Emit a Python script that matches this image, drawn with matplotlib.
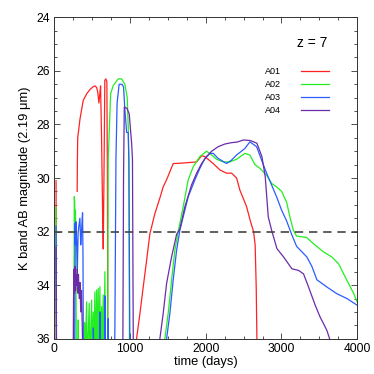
import numpy as np
import matplotlib
matplotlib.use('Agg')
import matplotlib.pyplot as plt
from matplotlib.ticker import MultipleLocator

plt.rcParams['font.family'] = ['Liberation Sans', 'DejaVu Sans']

nan = np.nan

# A01 (red)
a01_t = [24, 30, nan, 303, 306, 310, 340, 383, 430, 471, 510, 537, 560, 575, 590, 600, 612,
         625, 640, 647, 655, 668, 682, 695, 702, 708,
         1080, 1087, 1131, 1175, 1220, 1263, 1329, 1400, 1439, 1483, 1571, 1650, 1748,
         1880, 1946, 1989, 2099, 2188, 2276, 2342, 2408, 2451, 2540, 2587, 2632, 2653,
         2667, 2676, 2680]
a01_m = [30.1, 37, nan, 30.5, 29.3, 28.5, 27.8, 27.1, 26.85, 26.7, 26.6, 26.56, 26.62, 26.8, 27.2, 26.9, 26.56,
         28.5, 31.5, 32.65, 30.5, 26.35, 26.3, 26.4, 30.0, 37,
         37, 36.0, 35.07, 34.07, 33.07, 32.08, 31.33, 30.7, 30.33, 30.07, 29.46, 29.45, 29.43,
         29.4, 29.17, 29.2, 29.46, 29.7, 29.82, 29.82, 30.0, 30.45, 31.07, 31.58, 32.0, 32.5,
         34.07, 36.0, 37]

# A02 (green)
a02_t = [24, 30, nan, 258, 265, 270, 275, 280, 287, 292, 310, 317, 324,
         395, 400, 405, 428, 435, 462, 468, 494, 500, 515, 522, 537, 545, 560, 567,
         581, 588, 603, 610, 625, 632, 647, 655, 669, 676,
         705, 713, 745, 779, 845, 890, 933, 964, 977, 986, 994,
         1455, 1461, 1505, 1550, 1593, 1637, 1703, 1769, 1835, 1923, 2012, 2078, 2144,
         2231, 2320, 2408, 2517, 2583, 2650, 2716, 2804, 2870, 2936, 3002, 3068, 3112,
         3156, 3200, 3332, 3422, 3556, 3666, 3754, 3864, 3952, 4000]
a02_m = [31.1, 37, nan, 37, 30.7, 30.9, 31.8, 31.2, 33.5, 37, 37, 35.3, 37,
         37, 35.4, 37, 34.62, 37, 34.68, 37, 34.56, 37, 35.0, 37, 34.25, 37, 34.18, 37,
         34.12, 37, 34.06, 37, 34.8, 37, 34.37, 37, 33.5, 37,
         37, 29.3, 26.85, 26.55, 26.3, 26.3, 26.5, 27.0, 28.1, 29.3, 37,
         37, 36.0, 35.05, 33.8, 32.7, 32.0, 31.07, 30.07, 29.58, 29.2, 29.0, 29.14, 29.3,
         29.4, 29.4, 29.3, 29.08, 29.14, 29.5, 29.64, 29.9, 30.2, 30.33, 30.5, 30.9, 31.45,
         31.94, 32.17, 32.22, 32.45, 32.76, 32.95, 33.2, 33.82, 34.3, 34.63]

# A03 (blue)
a03_t = [24, 30, nan, 270, 275, 280, 286, 295, 305, 315, 325, 339, 350, 360, 374, 380, 385,
         512, 517, 522, 598, 603, 608, 664, 669, 674, 708, 713, 718,
         795, 801, 815, 830, 857, 895, 915, 933, 956, 977, 986, 1000,
         1478, 1484, 1527, 1571, 1616, 1659, 1769, 1857, 1923, 1989, 2055, 2099, 2165,
         2276, 2342, 2408, 2517, 2583, 2672, 2738, 2804, 2870, 2936, 3002, 3068, 3134,
         3200, 3336, 3402, 3468, 3600, 3732, 3864, 4000]
a03_m = [31.8, 37, nan, 37, 31.7, 32.5, 31.63, 32.3, 33.5, 32.06, 31.8, 31.5, 32.5, 32.0, 31.3, 33.0, 37,
         37, 35.6, 37, 37, 35.0, 37, 37, 34.4, 37, 37, 35.25, 37,
         37, 35.6, 29.3, 27.2, 26.5, 26.5, 26.6, 27.45, 28.3, 28.3, 29.5, 37,
         37, 36.0, 35.05, 33.8, 32.7, 31.95, 30.7, 30.07, 29.64, 29.27, 29.08, 29.08, 29.27,
         29.46, 29.33, 29.14, 28.9, 28.65, 28.83, 29.33, 29.82, 30.26, 30.7, 31.2, 31.6, 32.1,
         32.55, 32.95, 33.3, 33.8, 34.07, 34.32, 34.5, 34.75]

# A04 (purple)
a04_t = [24, 30, nan, 250, 255, 262, 268, 275, 282, 290, 298, 305, 312, 320, 330, 340,
         350, 360, 370, 380,
         905, 915, 925, 960, 990, 1010, 1022, 1033, 1045,
         1390, 1395, 1439, 1484, 1550, 1616, 1659, 1725, 1813, 1880, 1946, 2012, 2078,
         2165, 2254, 2342, 2412, 2500, 2587, 2676, 2742, 2786, 2826, 2875, 2941, 3029,
         3138, 3226, 3292, 3358, 3446, 3512, 3556, 3600, 3636, 3660]
a04_m = [32.6, 37, nan, 37, 34.5, 33.4, 34.3, 33.3, 34.2, 33.6, 34.0, 33.4, 34.3, 33.6, 34.5, 33.9,
         35.0, 34.2, 35.5, 37,
         37, 30.0, 27.35, 27.4, 27.6, 28.3, 28.7, 29.3, 37,
         37, 36.0, 35.05, 33.93, 32.94, 32.1, 31.9, 31.07, 30.26, 29.82, 29.46, 29.2, 29.0,
         28.83, 28.73, 28.68, 28.66, 28.58, 28.6, 28.7, 29.2, 29.95, 31.45, 32.0, 32.64, 32.95,
         33.39, 33.45, 33.58, 34.07, 34.75, 35.2, 35.44, 35.69, 36.0, 37]

labels = ['A01', 'A02', 'A03', 'A04']
colors = ['#ff2222', '#22ee22', '#2a5cff', '#6a2ca8']
limit_mag = 32.0

fig = plt.figure(figsize=(3.74, 3.74), dpi=100)
ax = fig.add_axes([0.145, 0.0944, 0.81, 0.8593])

series = [(a01_t, a01_m), (a02_t, a02_m), (a03_t, a03_m), (a04_t, a04_m)]
for (t, m), lab, c in zip(series, labels, colors):
    ax.plot(t, m, color=c, lw=0.9, label=lab)

ax.axhline(limit_mag, color='#444444', lw=1.2, dashes=(5, 3.5))

ax.set_xlim(0, 4000)
ax.set_ylim(36, 24)
ax.xaxis.set_major_locator(MultipleLocator(1000))
ax.xaxis.set_minor_locator(MultipleLocator(250))
ax.yaxis.set_major_locator(MultipleLocator(2))
ax.yaxis.set_minor_locator(MultipleLocator(0.5))
ax.tick_params(which='both', direction='in', top=True, right=True, width=0.6,
               colors='#333333', labelcolor='black', labelsize=8.7, pad=3)
ax.tick_params(which='major', length=4.5)
ax.tick_params(which='minor', length=2.5)
for s in ax.spines.values():
    s.set_linewidth(0.7)
    s.set_color('#333333')

ax.set_xlabel('time (days)', fontsize=9.3, labelpad=1)
ax.set_ylabel('K band AB magnitude (2.19 μm)', fontsize=9.3, labelpad=4)

ax.text(0.853, 0.92, 'z = 7', transform=ax.transAxes, fontsize=10,
        ha='center', va='center')
ax.legend(loc='upper left', bbox_to_anchor=(265 / 374, 1 - 67 / 374),
          bbox_transform=fig.transFigure, frameon=False, markerfirst=False,
          fontsize=6.5, handlelength=3.07, handletextpad=2.2, labelspacing=0.45,
          borderpad=0, borderaxespad=0)

fig.savefig('out.png', dpi=100)
